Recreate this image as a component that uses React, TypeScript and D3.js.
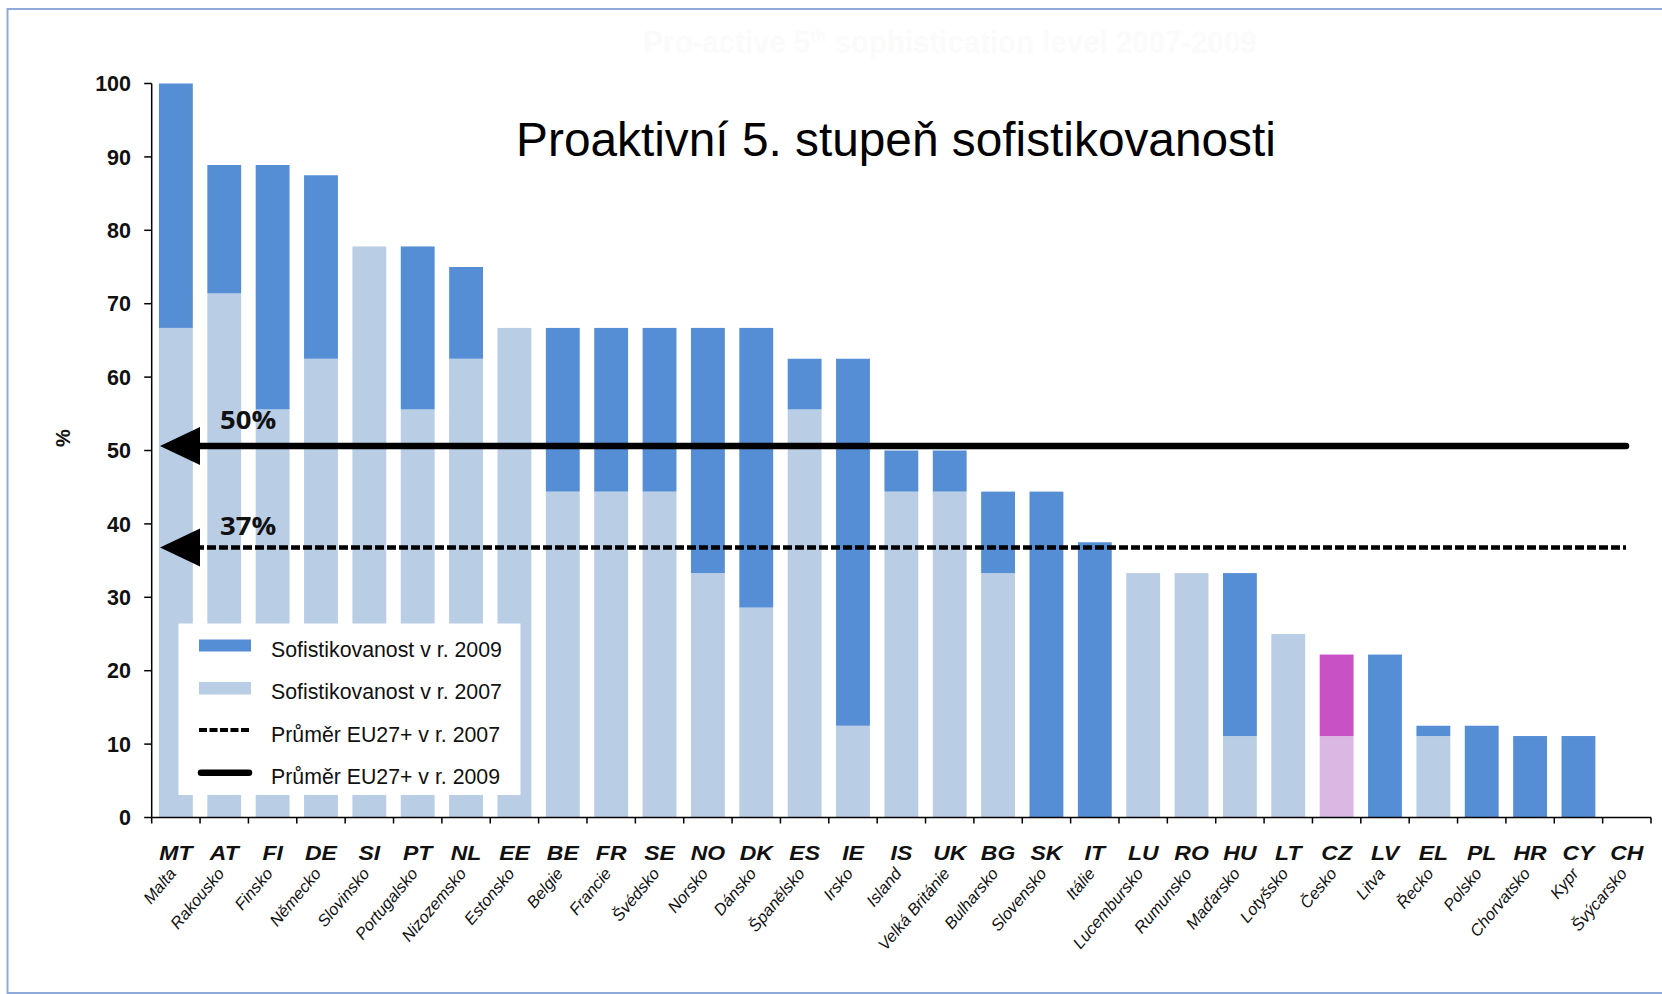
import React from "react";
import * as d3 from "d3";

const codes = ["MT","AT","FI","DE","SI","PT","NL","EE","BE","FR","SE","NO","DK","ES","IE","IS","UK","BG","SK","IT","LU","RO","HU","LT","CZ","LV","EL","PL","HR","CY","CH"];
const names = ["Malta","Rakousko","Finsko","Německo","Slovinsko","Portugalsko","Nizozemsko","Estonsko","Belgie","Francie","Švédsko","Norsko","Dánsko","Španělsko","Irsko","Island","Velká Británie","Bulharsko","Slovensko","Itálie","Lucembursko","Rumunsko","Maďarsko","Lotyšsko","Česko","Litva","Řecko","Polsko","Chorvatsko","Kypr","Švýcarsko"];
const v2007 = [66.7,71.4,55.6,62.5,77.8,55.6,62.5,66.7,44.4,44.4,44.4,33.3,28.6,55.6,12.5,44.4,44.4,33.3,0,0,33.3,33.3,11.1,25,11.1,0,11.1,0,0,0,0];
const v2009 = [100,88.9,88.9,87.5,77.8,77.8,75,66.7,66.7,66.7,66.7,66.7,66.7,62.5,62.5,50,50,44.4,44.4,37.5,33.3,33.3,33.3,25,22.2,22.2,12.5,12.5,11.1,11.1,0];
const highlight = ["CZ"];
const yTicks = [0,10,20,30,40,50,60,70,80,90,100];
const avgValues = [36.8, 50.6];
const avgLabels = ["37%", "50%"];
const avgDashed = [true, false];
const legendLabels = ["Sofistikovanost v r. 2009","Sofistikovanost v r. 2007","Průměr EU27+ v r. 2007","Průměr EU27+ v r. 2009"];
const title = "Proaktivní 5. stupeň sofistikovanosti";

const C_DARK = "#558ed5";
const C_LIGHT = "#b9cde5";
const C_HDARK = "#c751c5";
const C_HLIGHT = "#dbb7e3";
const FONT = "'Liberation Sans', Arial, Helvetica, sans-serif";

export default function App() {
  const W = 1662, H = 994;
  const x = d3.scaleBand<string>().domain(codes).range([151.7, 1651]).paddingInner(0.3).paddingOuter(0.15);
  const y = d3.scaleLinear().domain([0, 100]).range([817.5, 83.5]);
  const off = (x.step() - x.bandwidth()) / 2;
  const bounds = codes.map((c) => (x(c) as number) - off).concat([x.range()[1]]);
  const x0 = x.range()[0];

  return (
    <div style={{ position: "absolute", left: 0, top: 0 }}>
      <svg width={W} height={H} style={{ display: "block", background: "#fff" }} fontFamily={FONT}>
        <rect x={0} y={0} width={W} height={H} fill="#fff" />
        <rect x={7.5} y={9} width={1720} height={984} fill="none" stroke="#8eaadb" strokeWidth={2} />
        {/* faint ghost title */}
        <text transform="translate(950,53) scale(0.95,1)" textAnchor="middle" fontSize={31} fontWeight="bold" fill="#fbfbfb">
          Pro-active 5<tspan fontSize={18} dy={-11}>th</tspan><tspan dy={11}> sophistication level 2007-2009</tspan>
        </text>

        {/* bars */}
        {codes.map((c, i) => {
          const bx = x(c) as number;
          const bw = x.bandwidth();
          const hl = highlight.includes(c);
          return (
            <g key={c}>
              {v2007[i] > 0 && (
                <rect x={bx} y={y(v2007[i])} width={bw} height={y(0) - y(v2007[i])} fill={hl ? C_HLIGHT : C_LIGHT} />
              )}
              {v2009[i] > v2007[i] && (
                <rect x={bx} y={y(v2009[i])} width={bw} height={y(v2007[i]) - y(v2009[i])} fill={hl ? C_HDARK : C_DARK} />
              )}
            </g>
          );
        })}

        {/* title */}
        <text x={896} y={156} textAnchor="middle" fontSize={47.8} fill="#000">{title}</text>

        {/* y axis */}
        <line x1={x0} x2={x0} y1={y(100)} y2={y(0)} stroke="#000" strokeWidth={1.5} />
        {yTicks.map((t) => (
          <g key={t}>
            <line x1={x0 - 7.5} x2={x0} y1={y(t)} y2={y(t)} stroke="#000" strokeWidth={1.5} />
            <text x={131} y={y(t)} dy="0.36em" textAnchor="end" fontSize={21.5} fontWeight="bold" fill="#111">{t}</text>
          </g>
        ))}
        <text transform={`translate(70,438) rotate(-90)`} textAnchor="middle" fontSize={20} fontWeight="bold" fill="#111">%</text>

        {/* x axis */}
        <line x1={x0} x2={x.range()[1]} y1={y(0)} y2={y(0)} stroke="#000" strokeWidth={1.5} />
        {bounds.map((b, i) => (
          <line key={i} x1={b} x2={b} y1={y(0)} y2={y(0) + 6} stroke="#000" strokeWidth={1.5} />
        ))}
        {codes.map((c) => {
          const cx = (x(c) as number) + x.bandwidth() / 2;
          return (
            <text key={c} transform={`translate(${cx},860) scale(1.12,1)`} textAnchor="middle" fontSize={20.5} fontWeight="bold" fontStyle="italic" fill="#111">{c}</text>
          );
        })}
        {codes.map((c, i) => {
          const cx = (x(c) as number) + x.bandwidth() / 2;
          return (
            <text key={c + "n"} transform={`translate(${cx + 1},874) rotate(-50)`} textAnchor="end" fontSize={16.5} fontStyle="italic" fill="#111">{names[i]}</text>
          );
        })}

        {/* average lines with arrows */}
        {avgValues.map((v, i) => {
          const yy = y(v);
          return (
            <g key={i}>
              <line x1={195} x2={1626} y1={yy} y2={yy} stroke="#000" strokeWidth={avgDashed[i] ? 4.5 : 6.5}
                strokeDasharray={avgDashed[i] ? "9 3" : undefined} strokeLinecap={avgDashed[i] ? "butt" : "round"} />
              <path d={`M160,${yy} L200,${yy - 19} L200,${yy + 19} Z`} fill="#000" />
              <text transform={`translate(220,${yy - (avgDashed[i] ? 12.5 : 17)}) scale(1.1,1)`} fontSize={25} fontWeight="bold" fontFamily="'Open Sans', sans-serif" fill="#111">{avgLabels[i]}</text>
            </g>
          );
        })}

        {/* legend */}
        <rect x={178.5} y={623.5} width={342} height={171.5} fill="#fff" />
        <rect x={199} y={639.5} width={52} height={12} fill={C_DARK} />
        <rect x={199} y={682} width={52} height={12.5} fill={C_LIGHT} />
        <line x1={199} x2={251} y1={730} y2={730} stroke="#000" strokeWidth={4} strokeDasharray="8 2.5" />
        <line x1={201} x2={249} y1={772.7} y2={772.7} stroke="#000" strokeWidth={6.5} strokeLinecap="round" />
        {legendLabels.map((l, i) => (
          <text key={l} x={271} y={656.7 + i * 42.4} fontSize={21.3} fill="#111">{l}</text>
        ))}
      </svg>
    </div>
  );
}
